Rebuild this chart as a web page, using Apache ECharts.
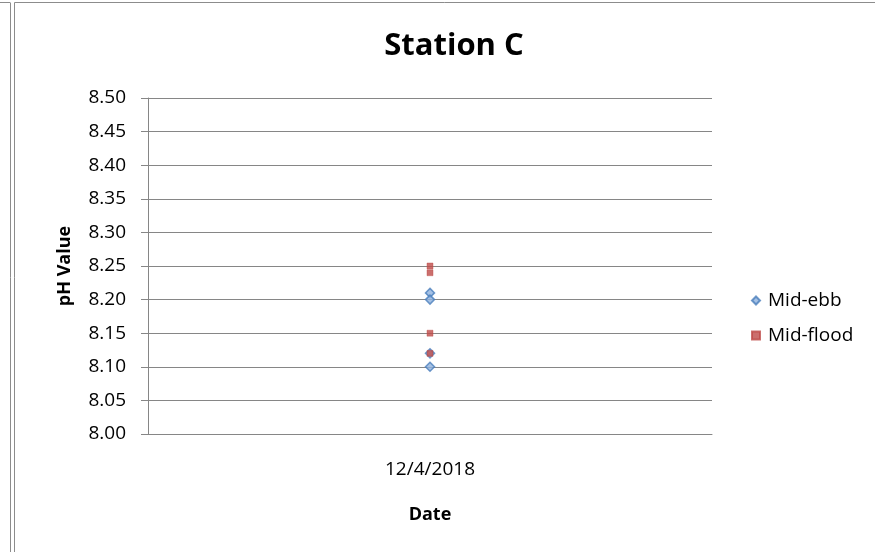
<!DOCTYPE html>
<html><head><meta charset="utf-8">
<script src="https://cdn.jsdelivr.net/npm/echarts@6/dist/echarts.min.js"></script>
<style>html,body{margin:0;padding:0;background:#fff}#c{width:875px;height:552px}</style>
</head><body><div id="c"></div>
<script>
const categories = ['12/4/2018'];
const ebbValues = [8.21, 8.20, 8.12, 8.10];
const floodValues = [8.25, 8.24, 8.15, 8.12];
const yTicks = { min: 8.00, max: 8.50, interval: 0.05 };

const FONT = '"Open Sans", "Noto Sans", sans-serif';
const chart = echarts.init(document.getElementById('c'), null, { renderer: 'canvas' });
chart.setOption({
  backgroundColor: '#fff',
  animation: false,
  title: { text: 'Station C', left: 449, top: 26, textAlign: 'center',
    textStyle: { fontFamily: FONT, fontSize: 31, fontWeight: 'bold', color: '#000' } },
  grid: { left: 148, right: 163, top: 98, bottom: 118 },
  legend: { orient: 'vertical', left: 746, top: 286, itemGap: 16, itemWidth: 8, itemHeight: 8,
    textStyle: { fontFamily: FONT, fontSize: 19, color: '#000', padding: [0,0,0,3] },
    data: [
      { name: 'Mid-ebb', icon: 'diamond' },
      { name: 'Mid-flood', icon: 'rect', itemStyle: { color: '#BE4B48' } }
    ] },
  xAxis: { type: 'category', data: categories, boundaryGap: true,
    name: 'Date', nameLocation: 'middle', nameGap: 72,
    nameTextStyle: { fontFamily: FONT, fontSize: 18, fontWeight: 'bold', color: '#000' },
    axisLine: { lineStyle: { color: '#868686', width: 1 } },
    axisTick: { show: false },
    axisLabel: { fontFamily: FONT, fontSize: 19, color: '#000', margin: 26 },
    splitLine: { show: false } },
  yAxis: { type: 'value', min: yTicks.min, max: yTicks.max, interval: yTicks.interval,
    name: 'pH Value', nameLocation: 'middle', nameGap: 74, nameRotate: 90,
    nameTextStyle: { fontFamily: FONT, fontSize: 18, fontWeight: 'bold', color: '#000' },
    axisLine: { show: true, lineStyle: { color: '#868686', width: 1 } },
    axisTick: { show: true, length: 7, lineStyle: { color: '#868686' } },
    axisLabel: { fontFamily: FONT, fontSize: 19, color: '#000', margin: 22,
      formatter: v => v.toFixed(2) },
    splitLine: { show: true, lineStyle: { color: '#868686', width: 1 } } },
  series: [
    { name: 'Mid-ebb', type: 'scatter', symbol: 'diamond', symbolSize: 9,
      itemStyle: { color: '#8FB2DE', borderColor: '#4A7EBB', borderWidth: 1.5 },
      data: ebbValues.map(v => [categories[0], v]) },
    { name: 'Mid-flood', type: 'scatter', symbol: 'rect', symbolSize: 6,
      itemStyle: { color: '#BE4B48', borderColor: '#BE4B48', borderWidth: 0.5 },
      data: floodValues.map(v => [categories[0], v]) }
  ],
  graphic: [
    { type: 'line', shape: { x1: 10.5, y1: 3, x2: 10.5, y2: 552 }, style: { stroke: '#8c8c8c', lineWidth: 1 } },
    { type: 'line', shape: { x1: 14.5, y1: 2.5, x2: 14.5, y2: 552 }, style: { stroke: '#8c8c8c', lineWidth: 1 } },
    { type: 'line', shape: { x1: 14.5, y1: 2.5, x2: 875, y2: 2.5 }, style: { stroke: '#8c8c8c', lineWidth: 1 } },
    { type: 'line', shape: { x1: 0, y1: 2.5, x2: 10.5, y2: 2.5 }, style: { stroke: '#8c8c8c', lineWidth: 1 } }
  ]
});
</script></body></html>
